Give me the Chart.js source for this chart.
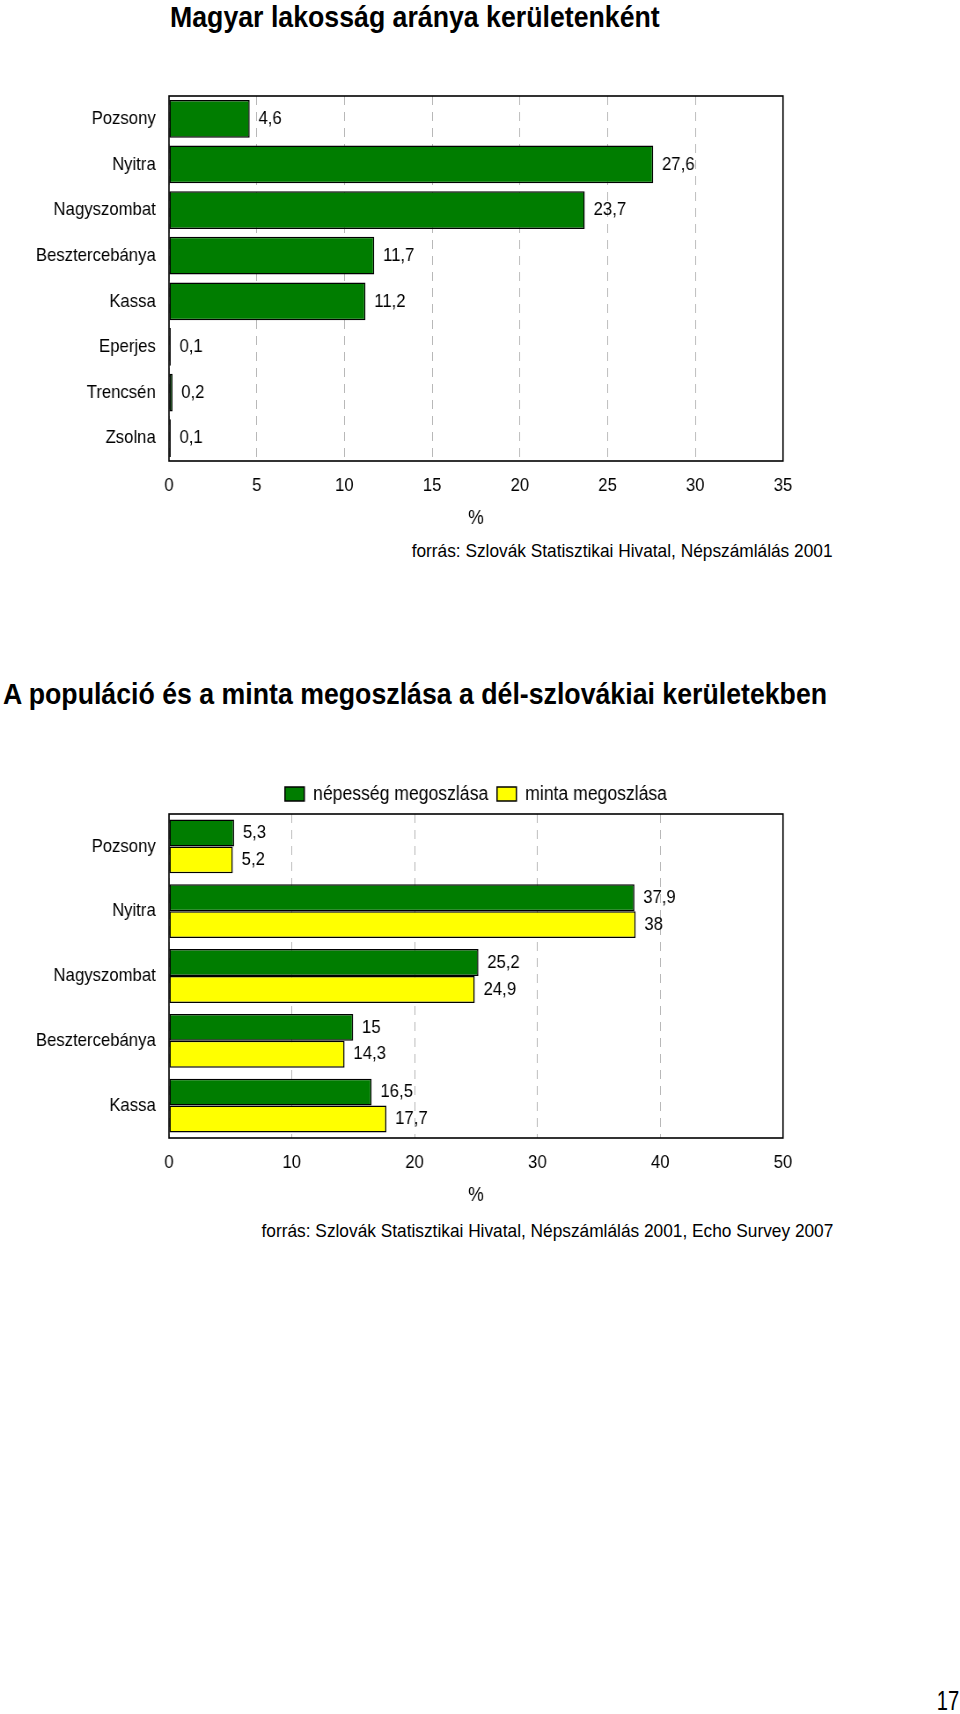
<!DOCTYPE html>
<html lang="hu">
<head>
<meta charset="utf-8">
<title>Magyar lakosság aránya</title>
<script src="https://cdn.jsdelivr.net/npm/chart.js@4/dist/chart.umd.min.js"></script>
<style>
  html, body { margin: 0; padding: 0; background: #fff; }
  body { position: relative; width: 960px; height: 1714px; overflow: hidden;
         font-family: "Liberation Sans", Arial, sans-serif; color: #000; }
  /* az eredeti kép szövegei keskenyebbek: vízszintesen összenyomjuk */
  .title { position: absolute; margin: 0; font-size: 30px; font-weight: bold; white-space: nowrap;
           line-height: 34px; transform: scaleX(0.89); transform-origin: left top; }
  .source { position: absolute; font-size: 19px; white-space: nowrap; line-height: 22px;
            transform: scaleX(0.91); transform-origin: right top; }
  .wrap { position: absolute; left: 0; transform: scaleX(0.88); transform-origin: left top; }
  .wrap canvas { display: block; }
  #page { position: absolute; right: 1px; top: 1687px; font-size: 28px; line-height: 28px;
          transform: scaleX(0.72); transform-origin: right top; }
</style>
</head>
<body>
<h1 class="title" style="left:170px; top:0px;">Magyar lakosság aránya kerületenként</h1>
<div class="wrap" style="top:60px;"><canvas id="chart1"></canvas></div>
<div class="source" style="right:127px; top:540px;">forrás: Szlovák Statisztikai Hivatal, Népszámlálás 2001</div>

<h1 class="title" style="left:3px; top:677px;">A populáció és a minta megoszlása a dél-szlovákiai kerületekben</h1>
<div class="wrap" style="top:770px;"><canvas id="chart2"></canvas></div>
<div class="source" style="right:127px; top:1220px;">forrás: Szlovák Statisztikai Hivatal, Népszámlálás 2001, Echo Survey 2007</div>

<div id="page">17</div>

<script>
// 1. grafikon: magyar lakosság aránya (%)
const districts1 = ["Pozsony", "Nyitra", "Nagyszombat", "Besztercebánya", "Kassa", "Eperjes", "Trencsén", "Zsolna"];
const hungarianShare = [4.6, 27.6, 23.7, 11.7, 11.2, 0.1, 0.2, 0.1];
const ticks1 = [0, 5, 10, 15, 20, 25, 30, 35];

// 2. grafikon: népesség és minta megoszlása (%)
const districts2 = ["Pozsony", "Nyitra", "Nagyszombat", "Besztercebánya", "Kassa"];
const populationShare = [5.3, 37.9, 25.2, 15, 16.5];
const sampleShare = [5.2, 38, 24.9, 14.3, 17.7];
const ticks2 = [0, 10, 20, 30, 40, 50];

const GREEN = "#007d00";
const YELLOW = "#ffff00";
const SQUEEZE = 0.88;            // a .wrap scaleX értéke
const W = Math.round(960 / SQUEEZE);

Chart.defaults.font.family = "'Liberation Sans', Arial, sans-serif";
Chart.defaults.font.size = 19;
Chart.defaults.color = "#000";

const fmt = v => String(v).replace(".", ",");

// keret a rajzterület körül
const framePlugin = {
  id: "frame",
  afterDatasetsDraw(chart) {
    const { ctx, chartArea: a } = chart;
    ctx.save();
    ctx.strokeStyle = "#000";
    ctx.lineWidth = 1.6;
    ctx.strokeRect(a.left, a.top, a.right - a.left, a.bottom - a.top);
    ctx.restore();
  }
};

// értékcímkék a sávok jobb oldalán
const valueLabels = {
  id: "valueLabels",
  afterDatasetsDraw(chart) {
    const { ctx } = chart;
    ctx.save();
    ctx.font = "19px 'Liberation Sans', Arial, sans-serif";
    ctx.fillStyle = "#000";
    ctx.textAlign = "left";
    ctx.textBaseline = "middle";
    chart.data.datasets.forEach((ds, di) => {
      chart.getDatasetMeta(di).data.forEach((bar, i) => {
        ctx.fillText(fmt(ds.data[i]), bar.x + 10, bar.y);
      });
    });
    ctx.restore();
  }
};

function xScale(max, stepTicks) {
  return {
    min: 0,
    max: max,
    afterBuildTicks: s => { s.ticks = stepTicks.map(v => ({ value: v })); },
    afterFit: s => { s.height = 75; },
    ticks: { padding: 13, font: { size: 19 }, callback: v => fmt(v) },
    grid: { color: "#b4b4b4", lineWidth: 1, drawTicks: false },
    border: { display: false, dash: [9, 7] },
    title: { display: true, text: "%", font: { size: 20 }, padding: { top: 0, bottom: 6 } }
  };
}

function yScale() {
  return {
    afterFit: s => { s.width = Math.round(169 / SQUEEZE); },
    ticks: { padding: 15, font: { size: 19 } },
    grid: { display: false, drawTicks: false },
    border: { display: false }
  };
}

const padRight = W - 783 / SQUEEZE;

const c1 = document.getElementById("chart1");
c1.width = W; c1.height = 480;
new Chart(c1, {
  type: "bar",
  data: {
    labels: districts1,
    datasets: [{
      label: "magyar lakosság",
      data: hungarianShare,
      backgroundColor: GREEN,
      borderColor: "#000",
      borderWidth: 1.5,
      borderSkipped: false,
      barPercentage: 0.83,
      categoryPercentage: 1
    }]
  },
  options: {
    indexAxis: "y",
    responsive: false,
    animation: false,
    layout: { padding: { top: 36, bottom: 4, left: 0, right: padRight } },
    plugins: { legend: { display: false }, tooltip: { enabled: false } },
    scales: { x: xScale(35, ticks1), y: yScale() }
  },
  plugins: [framePlugin, valueLabels]
});

const c2 = document.getElementById("chart2");
c2.width = W; c2.height = 447;
new Chart(c2, {
  type: "bar",
  data: {
    labels: districts2,
    datasets: [{
      label: "népesség megoszlása",
      data: populationShare,
      backgroundColor: GREEN,
      borderColor: "#000",
      borderWidth: 1.5,
      borderSkipped: false,
      barPercentage: 1,
      categoryPercentage: 0.83
    }, {
      label: "minta megoszlása",
      data: sampleShare,
      backgroundColor: YELLOW,
      borderColor: "#000",
      borderWidth: 1.5,
      borderSkipped: false,
      barPercentage: 1,
      categoryPercentage: 0.83
    }]
  },
  options: {
    indexAxis: "y",
    responsive: false,
    animation: false,
    layout: { padding: { top: 4, bottom: 4, left: 0, right: padRight } },
    plugins: {
      legend: {
        position: "top",
        fullSize: false,
        labels: { boxWidth: 22, boxHeight: 14, padding: 10, font: { size: 20 }, color: "#000" }
      },
      tooltip: { enabled: false }
    },
    scales: { x: xScale(50, ticks2), y: yScale() }
  },
  plugins: [framePlugin, valueLabels]
});
</script>
</body>
</html>
